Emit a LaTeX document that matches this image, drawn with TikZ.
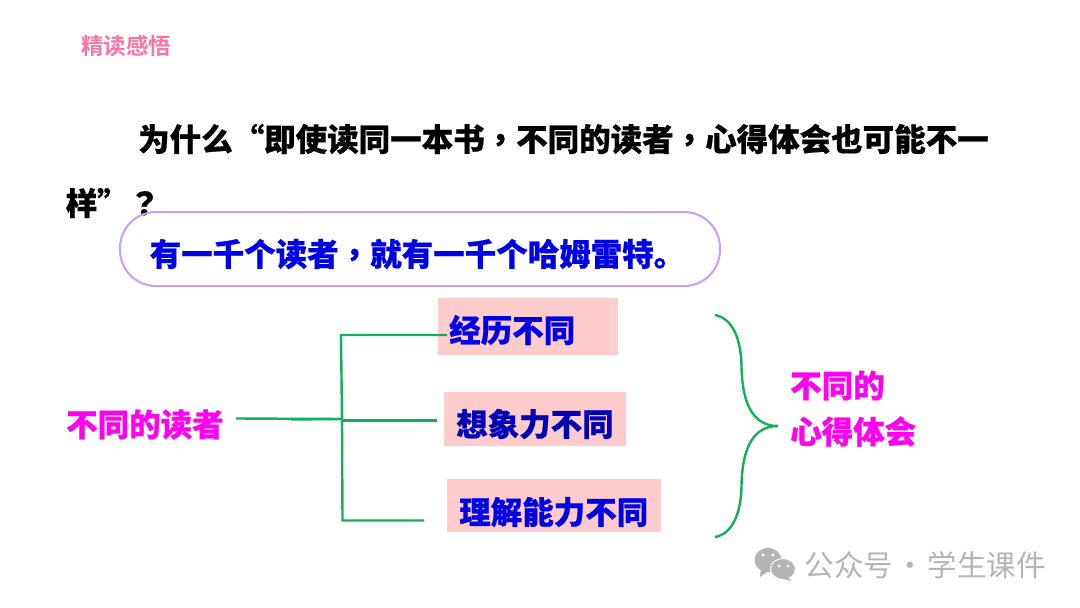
\documentclass[tikz,border=0pt]{standalone}
\usepackage{fontspec}
\setmainfont{Noto Sans CJK SC}[BoldFeatures={FakeBold=0.6}]
\newfontfamily\cjktc{Noto Sans CJK TC}[BoldFeatures={FakeBold=0.6}]
\newfontfamily\titlefont{Noto Sans CJK SC Bold}
\newcommand{\zhcomma}{{\cjktc\bfseries\symbol{"FF0C}}}
\newcommand{\zhask}{{\cjktc\bfseries\symbol{"FF1F}}}
\definecolor{titlepink}{HTML}{F973A8}
\definecolor{ovalline}{HTML}{C9A0EC}
\definecolor{boxpink}{HTML}{FFCCCC}
\definecolor{linegreen}{HTML}{12B058}
\definecolor{readerblue}{HTML}{0000E6}
\definecolor{readerpink}{HTML}{FF00F0}
\definecolor{markgray}{HTML}{B4B4B4}
\begin{document}
\begin{tikzpicture}[x=1pt,y=-1pt]
    \tikzstyle{txt} = [anchor=west, inner sep=0pt, font=\fontsize{31.5}{31.5}\selectfont\bfseries]
    \tikzstyle{bluetxt} = [txt, text=readerblue]
    \tikzstyle{pinktxt} = [txt, text=readerpink]
    \tikzstyle{pinkbox} = [fill=boxpink, inner sep=0pt]
    \tikzstyle{wire} = [draw=linegreen, line width=2.4pt]
    \useasboundingbox (0,0) rectangle (1080,608);

    % 标题和问题
    \node[txt, text=titlepink, font=\fontsize{22.5}{22.5}\selectfont\titlefont] (title) at (81,46) {精读感悟};
    \node[txt] (line1) at (138,139) {为什么“即使读同一本书\zhcomma 不同的读者\zhcomma 心得体会也可能不一};
    \node[txt] (line2) at (65.5,203) {样”\zhask};

    % 圆角框
    \node[draw=ovalline, line width=2pt, rounded corners=36pt, minimum width=600pt, minimum height=74pt, inner sep=0pt] (oval) at (420,249) {};
    \node[bluetxt] (answer) at (149.5,254) {有一千个读者\zhcomma 就有一千个哈姆雷特。};

    % 粉色底
    \node[pinkbox, minimum width=180pt, minimum height=57pt] (box1) at (528,326.5) {};
    \node[pinkbox, minimum width=182pt, minimum height=54pt] (box2) at (535,419) {};
    \node[pinkbox, minimum width=214pt, minimum height=53pt] (box3) at (554,505.5) {};

    % 文字
    \node[bluetxt] (jingli) at (449,330) {经历不同};
    \node[bluetxt, text=readerblue!80!black] (xiangxiang) at (456,424) {想象力不同};
    \node[bluetxt] (lijie) at (459,512) {理解能力不同};
    \node[pinktxt] (reader) at (66,424.5) {不同的读者};
    \node[pinktxt] (result1) at (790,385.5) {不同的};
    \node[pinktxt] (result2) at (790,431.5) {心得体会};

    % 连接线的端点
    \coordinate (start) at (236,418.5);
    \coordinate (thick) at (291,419.5);
    \coordinate (hub) at (342,419);
    \coordinate (top) at (341,335);
    \coordinate (topend) at (447,335);
    \coordinate (midend) at (437,420.5);
    \coordinate (bottom) at (342.5,520.5);
    \coordinate (bottomend) at (424,520.5);

    % 绘制连接线
    \draw[wire] (start) -- (hub);
    \draw[wire] (thick) -- (hub);
    \draw[wire] (topend) -- (top) -- (hub);
    \draw[wire] (hub) -- (bottom) -- (bottomend);
    \draw[wire] (hub |- midend) -- (midend);

    % 大括号
    \coordinate (bracetop) at (715,315);
    \coordinate (bracetip) at (778,426);
    \coordinate (bracebottom) at (715,537);
    \draw[wire] (bracetop) .. controls (732,318) and (741,338) .. (741.5,366)
        .. controls (742,398) and (750,426) .. (bracetip);
    \draw[wire] (bracetip) .. controls (750,426) and (742,454) .. (741.5,486)
        .. controls (741,514) and (732,534) .. (bracebottom);

    % 水印
    \fill[markgray] (768,560) ellipse (13.5 and 12);
    \fill[markgray] (761,567) -- (760,577) -- (770,570) -- cycle;
    \fill[markgray, draw=white, line width=1pt] (783,569) ellipse (12.5 and 10.5);
    \fill[markgray] (787,576) -- (791,581) -- (780,578) -- cycle;
    \fill[white] (763,555) circle (1.7) (773,555) circle (1.7) (779,566) circle (1.5) (788,566) circle (1.5);
    \node[txt, text=markgray, font=\fontsize{29.5}{29.5}\selectfont] (mark) at (804.5,565) {公众号\hspace{2.5pt}·\hspace{2.5pt}学生课件};
\end{tikzpicture}
\end{document}
